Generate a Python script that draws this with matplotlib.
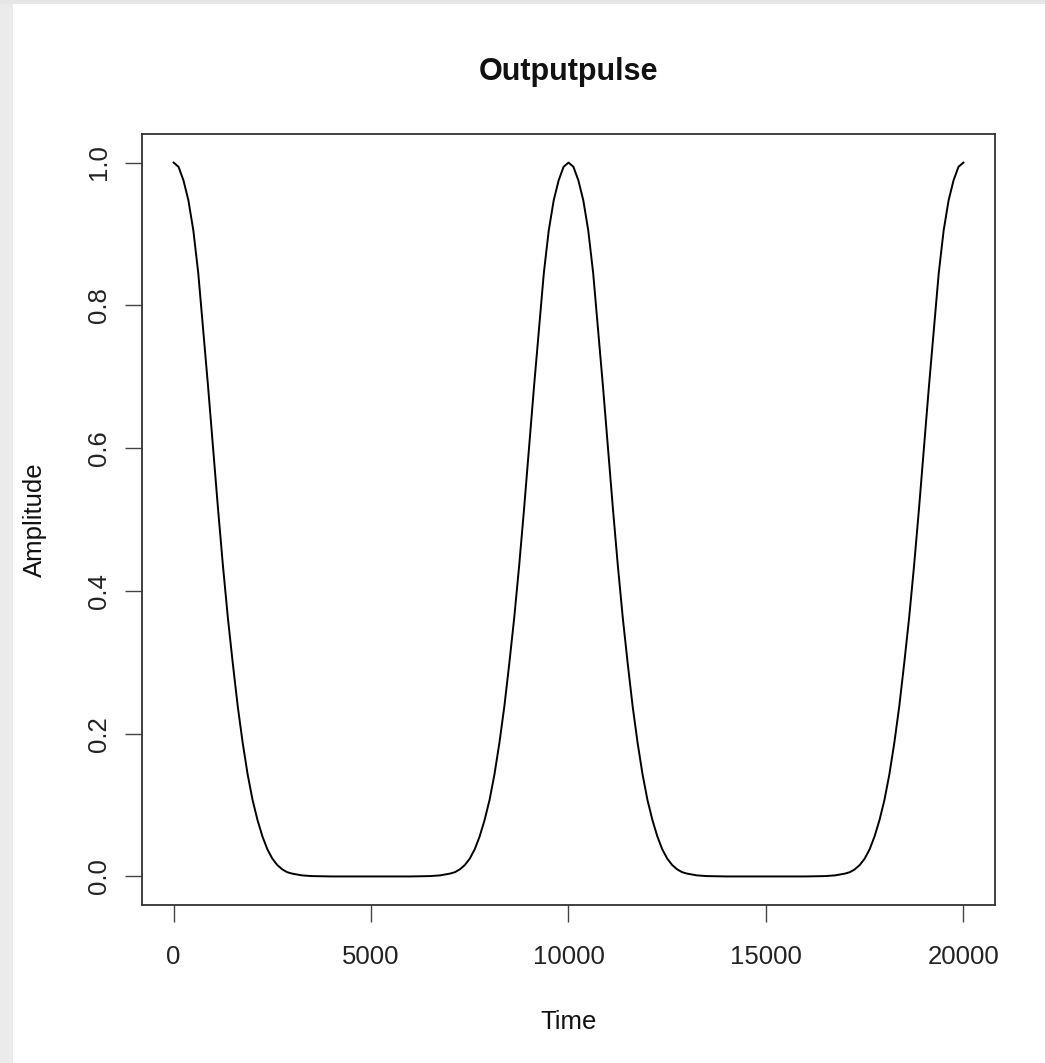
import matplotlib
matplotlib.use("Agg")
import matplotlib.pyplot as plt
from matplotlib.patches import Rectangle

plt.rcParams['font.family'] = ['Liberation Sans', 'DejaVu Sans']

# Data (Time, Amplitude)
time = [0, 125, 250, 375, 500, 625, 750, 875, 1000, 1125, 1250, 1375, 1500, 1625,
        1750, 1875, 2000, 2125, 2250, 2375, 2500, 2625, 2750, 2875, 3000, 3250,
        3500, 4000, 5000,
        6000, 6500, 6750, 7000, 7125, 7250, 7375, 7500, 7625, 7750, 7875, 8000,
        8125, 8250, 8375, 8500, 8625, 8750, 8875, 9000, 9125, 9250, 9375, 9500,
        9625, 9750, 9875, 10000,
        10125, 10250, 10375, 10500, 10625, 10750, 10875, 11000, 11125, 11250,
        11375, 11500, 11625, 11750, 11875, 12000, 12125, 12250, 12375, 12500,
        12625, 12750, 12875, 13000, 13250, 13500, 14000, 15000,
        16000, 16500, 16750, 17000, 17125, 17250, 17375, 17500, 17625, 17750,
        17875, 18000, 18125, 18250, 18375, 18500, 18625, 18750, 18875, 19000,
        19125, 19250, 19375, 19500, 19625, 19750, 19875, 20000]
amplitude = [1.000, 0.994, 0.975, 0.947, 0.905, 0.845, 0.765, 0.685, 0.600, 0.515,
             0.435, 0.362, 0.298, 0.238, 0.187, 0.143, 0.107, 0.079, 0.056, 0.038,
             0.025, 0.016, 0.010, 0.006, 0.004, 0.0015, 0.0005, 0.0, 0.0,
             0.0, 0.0005, 0.0015, 0.004, 0.006, 0.010, 0.016, 0.025, 0.038, 0.056,
             0.079, 0.107, 0.143, 0.187, 0.238, 0.298, 0.362, 0.435, 0.515, 0.600,
             0.685, 0.765, 0.845, 0.905, 0.947, 0.975, 0.994, 1.000,
             0.994, 0.975, 0.947, 0.905, 0.845, 0.765, 0.685, 0.600, 0.515, 0.435,
             0.362, 0.298, 0.238, 0.187, 0.143, 0.107, 0.079, 0.056, 0.038, 0.025,
             0.016, 0.010, 0.006, 0.004, 0.0015, 0.0005, 0.0, 0.0,
             0.0, 0.0005, 0.0015, 0.004, 0.006, 0.010, 0.016, 0.025, 0.038, 0.056,
             0.079, 0.107, 0.143, 0.187, 0.238, 0.298, 0.362, 0.435, 0.515, 0.600,
             0.685, 0.765, 0.845, 0.905, 0.947, 0.975, 0.994, 1.000]
x_ticks = [0, 5000, 10000, 15000, 20000]
y_ticks = [0.0, 0.2, 0.4, 0.6, 0.8, 1.0]
y_tick_labels = ["0.0", "0.2", "0.4", "0.6", "0.8", "1.0"]

W, H = 1045, 1063
fig = plt.figure(figsize=(W / 100, H / 100), dpi=100)
fig.patch.set_facecolor('white')

# light gray frame strips (left and top) of the screenshot
fig.patches.append(Rectangle((0, 0), 13 / W, 1, transform=fig.transFigure,
                             facecolor='#ebebeb', edgecolor='none', zorder=0))
fig.patches.append(Rectangle((0, 1 - 4 / H), 1, 4 / H, transform=fig.transFigure,
                             facecolor='#e6e6e6', edgecolor='none', zorder=0))

left, right, top, bottom = 142, 995, 134, 905
ax = fig.add_axes([left / W, 1 - bottom / H, (right - left) / W, (bottom - top) / H])
ax.plot(time, amplitude, color='black', linewidth=1.4, solid_joinstyle='round')

ax.set_xlim(-800, 20800)
ax.set_ylim(-0.04, 1.04)
ax.set_xticks(x_ticks)
ax.set_xticklabels([str(v) for v in x_ticks])
ax.set_yticks(y_ticks)
ax.set_yticklabels(y_tick_labels, rotation=90, va='center')

for s in ax.spines.values():
    s.set_color('#333333')
    s.set_linewidth(1.3)
ax.tick_params(axis='both', direction='out', length=12, width=1.0, color='#444444',
               labelsize=18.5, labelcolor='#222222')
ax.tick_params(axis='x', pad=17)
ax.tick_params(axis='y', pad=10)

cx = (left + right) / 2 / W
fig.text(cx, 1 - 72 / H, 'Outputpulse', ha='center', va='center',
         fontsize=22, fontweight='bold', color='#111111')
fig.text(cx, 1 - 1022 / H, 'Time', ha='center', va='center', fontsize=18.5,
         color='#111111')
fig.text(35 / W, 1 - ((top + bottom) / 2) / H, 'Amplitude', ha='center',
         va='center', rotation=90, fontsize=18.5, color='#111111')

fig.savefig('out.png', dpi=100)
